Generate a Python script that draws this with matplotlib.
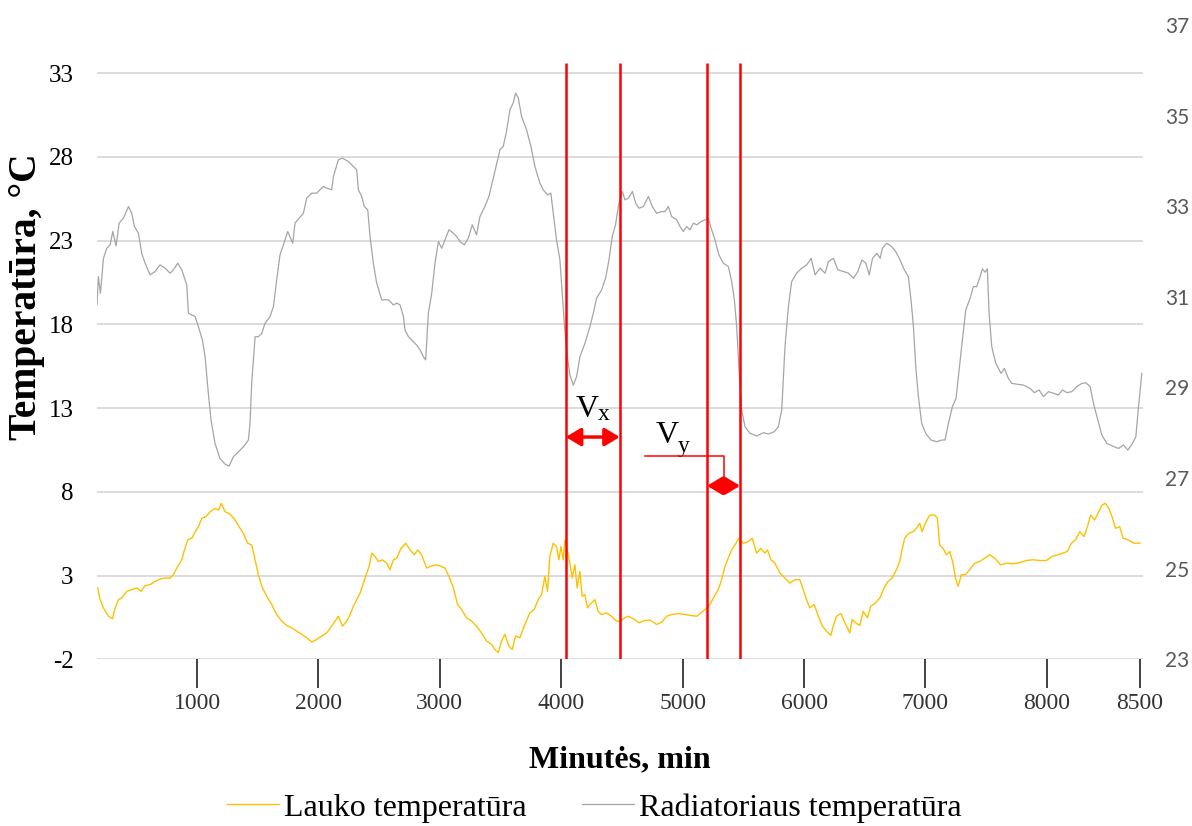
import matplotlib
matplotlib.use("Agg")
import matplotlib.pyplot as plt

# radiator temperature, (minute, degC)
rad_min = [176, 187, 204, 229, 256, 284, 306, 333, 358, 393, 435, 462, 484, 517, 544, 572,
           613, 654, 695, 736, 778, 805, 841, 874, 915, 929, 984, 1011, 1044, 1066, 1093, 1115,
           1148, 1189, 1231, 1264, 1299, 1340, 1382, 1423, 1436, 1450, 1478, 1505, 1533, 1560,
           1601, 1629, 1656, 1683, 1711, 1747, 1788, 1807, 1840, 1876, 1903, 1944, 1985, 2040,
           2068, 2109, 2123, 2164, 2197, 2246, 2274, 2315, 2329, 2356, 2378, 2406, 2425, 2452,
           2480, 2521, 2576, 2617, 2645, 2672, 2700, 2713, 2741, 2768, 2809, 2837, 2864, 2883,
           2905, 2933, 2960, 2988, 3015, 3042, 3075, 3111, 3138, 3166, 3201, 3234, 3267, 3302,
           3330, 3371, 3404, 3440, 3476, 3495, 3522, 3549, 3577, 3604, 3624, 3646, 3673, 3714,
           3750, 3783, 3824, 3851, 3887, 3914, 3934, 3961, 3989, 4008, 4025, 4047, 4071, 4099,
           4126, 4154, 4195, 4236, 4264, 4291, 4332, 4365, 4393, 4420, 4447, 4470, 4503, 4525,
           4553, 4586, 4613, 4641, 4676, 4718, 4750, 4786, 4827, 4855, 4882, 4910, 4951, 4978,
           5005, 5033, 5061, 5088, 5116, 5151, 5184, 5211, 5239, 5266, 5299, 5335, 5376, 5404,
           5426, 5445, 5464, 5486, 5514, 5555, 5610, 5665, 5706, 5755, 5788, 5816, 5843, 5871,
           5898, 5939, 5981, 6022, 6058, 6091, 6132, 6173, 6201, 6242, 6278, 6325, 6366, 6407,
           6443, 6476, 6509, 6537, 6564, 6600, 6627, 6645, 6681, 6722, 6755, 6791, 6826, 6859,
           6881, 6901, 6920, 6942, 6969, 7002, 7046, 7093, 7134, 7161, 7189, 7222, 7252, 7277,
           7304, 7332, 7368, 7395, 7422, 7450, 7469, 7491, 7510, 7524, 7546, 7579, 7623, 7650,
           7683, 7711, 7752, 7807, 7862, 7897, 7936, 7972, 8013, 8054, 8095, 8128, 8166, 8205,
           8247, 8288, 8321, 8357, 8384, 8420, 8453, 8494, 8540, 8590, 8631, 8667, 8705, 8733,
           8755, 8782]
rad_temp = [19.16, 20.85, 19.85, 21.94, 22.54, 22.74, 23.54, 22.68, 24.04, 24.33, 25.03, 24.63,
            23.84, 23.44, 22.24, 21.65, 20.95, 21.15, 21.55, 21.35, 21.05, 21.25, 21.65, 21.25,
            20.35, 18.66, 18.46, 17.86, 17.06, 16.07, 13.88, 12.28, 10.89, 9.99, 9.65, 9.53,
            10.09, 10.39, 10.69, 11.09, 12.08, 14.47, 17.26, 17.26, 17.46, 18.06, 18.46, 19.06,
            20.65, 22.14, 22.74, 23.54, 22.84, 24.04, 24.33, 24.63, 25.53, 25.83, 25.83, 26.23,
            26.13, 26.03, 26.82, 27.82, 27.92, 27.72, 27.52, 27.22, 26.03, 25.63, 25.03, 24.83,
            23.24, 21.65, 20.45, 19.46, 19.46, 19.16, 19.26, 19.16, 18.46, 17.66, 17.26, 17.06,
            16.76, 16.47, 16.07, 15.87, 18.66, 19.85, 21.65, 22.94, 22.54, 23.04, 23.64, 23.44,
            23.24, 22.94, 22.74, 23.14, 23.94, 23.34, 24.43, 25.03, 25.63, 26.72, 27.82, 28.42,
            28.62, 29.51, 30.81, 31.21, 31.80, 31.51, 30.41, 29.61, 28.62, 27.42, 26.43, 26.03,
            25.73, 25.83, 24.63, 23.04, 21.84, 19.85, 18.06, 16.27, 14.97, 14.37, 14.87, 16.07,
            16.86, 17.86, 18.66, 19.56, 20.05, 20.75, 21.84, 23.24, 23.94, 25.03, 25.93, 25.43,
            25.53, 25.93, 25.23, 24.93, 25.03, 25.63, 25.03, 24.63, 24.73, 24.73, 25.03, 24.43,
            24.24, 23.84, 23.54, 23.84, 23.64, 24.04, 23.94, 24.13, 24.24, 24.33, 23.64, 23.04,
            22.14, 21.65, 21.45, 20.55, 19.46, 17.86, 15.27, 12.88, 11.88, 11.49, 11.33, 11.53,
            11.45, 11.59, 11.88, 12.88, 16.67, 19.06, 20.55, 21.05, 21.35, 21.55, 21.94, 20.95,
            21.35, 21.05, 21.75, 21.94, 21.25, 21.15, 21.05, 20.75, 21.15, 21.84, 21.65, 20.95,
            21.94, 22.24, 21.94, 22.54, 22.84, 22.64, 22.34, 21.84, 21.25, 20.85, 19.46, 17.86,
            15.47, 13.68, 12.08, 11.49, 11.09, 10.99, 11.09, 11.09, 12.08, 13.08, 13.58, 15.27,
            17.06, 18.86, 19.56, 20.25, 20.25, 20.85, 21.31, 21.11, 21.31, 18.66, 16.67, 15.67,
            15.07, 15.37, 14.77, 14.47, 14.43, 14.37, 14.17, 13.92, 14.08, 13.68, 13.98, 13.88,
            13.78, 14.08, 13.92, 13.98, 14.28, 14.47, 14.51, 14.28, 13.28, 12.28, 11.39, 10.89,
            10.73, 10.59, 10.79, 10.49, 10.89, 11.29, 13.08, 15.07]

# outdoor temperature, (minute, degC)
lauko_min = [182, 201, 229, 270, 303, 325, 352, 380, 421, 462, 503, 539, 572, 613, 654, 695,
             736, 778, 805, 833, 874, 896, 924, 957, 984, 1011, 1039, 1072, 1108, 1149, 1177,
             1199, 1231, 1272, 1313, 1346, 1382, 1417, 1450, 1478, 1505, 1533, 1574, 1615, 1656,
             1697, 1739, 1780, 1821, 1862, 1903, 1945, 1986, 2027, 2068, 2109, 2137, 2164, 2197,
             2233, 2260, 2288, 2315, 2343, 2370, 2398, 2417, 2439, 2466, 2494, 2527, 2562, 2590,
             2617, 2645, 2680, 2719, 2755, 2790, 2817, 2850, 2891, 2933, 2974, 3015, 3042, 3075,
             3111, 3146, 3179, 3220, 3261, 3302, 3343, 3384, 3426, 3453, 3481, 3508, 3536, 3569,
             3596, 3624, 3659, 3700, 3741, 3777, 3810, 3838, 3865, 3887, 3906, 3934, 3961, 3980,
             3997, 4016, 4030, 4052, 4071, 4090, 4112, 4131, 4153, 4172, 4194, 4216, 4249, 4277,
             4304, 4331, 4373, 4414, 4455, 4484, 4525, 4553, 4594, 4641, 4690, 4731, 4786, 4827,
             4868, 4910, 4965, 5019, 5074, 5116, 5151, 5189, 5225, 5260, 5293, 5321, 5348, 5376,
             5403, 5431, 5464, 5499, 5540, 5573, 5609, 5644, 5677, 5699, 5727, 5760, 5801, 5842,
             5883, 5924, 5965, 5993, 6020, 6048, 6083, 6118, 6151, 6185, 6221, 6240, 6267, 6303,
             6336, 6377, 6397, 6424, 6459, 6487, 6522, 6550, 6588, 6624, 6659, 6692, 6725, 6761,
             6788, 6807, 6829, 6862, 6898, 6925, 6953, 6972, 6999, 7035, 7076, 7098, 7117, 7145,
             7172, 7200, 7227, 7247, 7269, 7296, 7329, 7364, 7406, 7447, 7488, 7529, 7570, 7620,
             7667, 7722, 7777, 7832, 7887, 7941, 7996, 8043, 8092, 8133, 8169, 8202, 8235, 8271,
             8306, 8334, 8361, 8394, 8427, 8455, 8482, 8510, 8537, 8565, 8600, 8628, 8669, 8719,
             8768]
lauko_temp = [2.26, 1.56, 1.07, 0.57, 0.42, 1.07, 1.56, 1.66, 2.06, 2.16, 2.26, 2.06, 2.40, 2.46,
              2.65, 2.79, 2.85, 2.85, 3.05, 3.45, 3.94, 4.53, 5.13, 5.23, 5.62, 5.92, 6.42, 6.51,
              6.81, 7.01, 6.91, 7.31, 6.81, 6.67, 6.32, 5.92, 5.52, 4.93, 4.83, 3.94, 3.05, 2.36,
              1.76, 1.27, 0.67, 0.28, 0.02, -0.12, -0.32, -0.51, -0.71, -0.97, -0.81, -0.61,
              -0.42, -0.02, 0.28, 0.57, -0.02, 0.28, 0.67, 1.17, 1.56, 1.96, 2.55, 3.15, 3.54,
              4.34, 4.14, 3.84, 3.94, 3.74, 3.35, 3.94, 4.04, 4.63, 4.93, 4.53, 4.24, 4.53, 4.24,
              3.45, 3.58, 3.64, 3.54, 3.45, 2.95, 2.26, 1.27, 0.97, 0.48, 0.28, -0.02, -0.42,
              -0.91, -1.11, -1.41, -1.60, -0.91, -0.51, -1.21, -1.41, -0.61, -0.71, 0.08, 0.77,
              0.97, 1.56, 1.86, 2.95, 2.06, 4.14, 4.93, 4.73, 3.94, 4.73, 3.94, 5.13, 4.44, 3.74,
              2.85, 3.64, 2.26, 3.25, 1.76, 1.86, 1.07, 1.37, 1.56, 0.87, 0.67, 0.77, 0.57, 0.28,
              0.28, 0.48, 0.57, 0.42, 0.18, 0.32, 0.34, 0.08, 0.22, 0.57, 0.67, 0.73, 0.67, 0.61,
              0.57, 0.77, 1.01, 1.27, 1.76, 2.16, 2.75, 3.54, 4.04, 4.53, 4.83, 5.23, 4.93, 5.03,
              5.23, 4.34, 4.63, 4.34, 4.53, 3.94, 3.74, 3.15, 2.85, 2.55, 2.75, 2.75, 2.16, 1.56,
              1.07, 1.27, 0.57, -0.02, -0.32, -0.57, -0.02, 0.57, 0.73, 0.18, -0.42, 0.38, 0.18,
              0.02, 0.87, 0.48, 1.17, 1.37, 1.66, 2.26, 2.65, 2.85, 3.35, 3.84, 4.53, 5.23, 5.52,
              5.62, 5.82, 6.12, 5.62, 6.12, 6.61, 6.61, 6.42, 4.83, 4.63, 4.24, 4.44, 3.74, 2.85,
              2.36, 3.05, 3.05, 3.35, 3.74, 3.84, 4.04, 4.24, 4.04, 3.64, 3.74, 3.70, 3.78, 3.90,
              3.94, 3.90, 3.90, 4.14, 4.24, 4.34, 4.44, 4.93, 5.13, 5.62, 5.33, 5.92, 6.61, 6.32,
              6.81, 7.21, 7.31, 7.01, 6.51, 5.82, 5.92, 5.23, 5.13, 4.93, 4.94]

# interval markers (minutes)
v_lines = [4037, 4482, 5201, 5473]
left_ticks = [-2, 3, 8, 13, 18, 23, 28, 33]
right_ticks = [23, 25, 27, 29, 31, 33, 35, 37]
x_ticks = [1000, 2000, 3000, 4000, 5000, 6000, 7000, 8000, 8766]
x_labels = ["1000", "2000", "3000", "4000", "5000", "6000", "7000", "8000", "8500"]

YELLOW = "#FFC000"
GREY = "#A5A5A5"
RED = "#FF0000"
SERIF = "Liberation Serif"

fig = plt.figure(figsize=(11.92, 8.26), dpi=100)
ax = fig.add_axes([0.0814, 0.2018, 0.8775, 0.7679])
ax.set_xlim(176, 8792)
ax.set_ylim(-2, 35.866)

ax.plot(lauko_min, lauko_temp, color=YELLOW, lw=1.0, label="Lauko temperatūra", zorder=3)
ax.plot(rad_min, rad_temp, color=GREY, lw=0.9, label="Radiatoriaus temperatūra", zorder=3)

for y in left_ticks:
    ax.axhline(y, color="#D9D9D9", lw=1.3, zorder=1)
ax.vlines(v_lines, -2, 33.61, color=RED, lw=1.8, zorder=4)

arrow = dict(arrowstyle="<|-|>,head_length=0.5,head_width=0.3", color=RED, lw=2.5,
             mutation_scale=18, shrinkA=0, shrinkB=0)
ax.annotate("", xy=(v_lines[1], 11.27), xytext=(v_lines[0], 11.27), arrowprops=arrow, zorder=5)
ax.annotate("", xy=(v_lines[3], 8.36), xytext=(v_lines[2], 8.36), arrowprops=arrow, zorder=5)
# leader from the Vy label down to its arrow
ax.plot([4690, 5341, 5341], [10.15, 10.15, 8.6], color=RED, lw=1.1, zorder=4)

ax.text(4212, 12.46, "V", fontsize=23, family=SERIF, ha="center", va="baseline")
ax.text(4350, 12.28, "x", fontsize=17, family=SERIF, ha="center", va="baseline")
ax.text(4871, 10.91, "V", fontsize=23, family=SERIF, ha="center", va="baseline")
ax.text(5008, 10.37, "y", fontsize=17, family=SERIF, ha="center", va="baseline")

for s in ax.spines.values():
    s.set_visible(False)
ax.set_yticks(left_ticks)
ax.set_yticklabels([str(t) for t in left_ticks], family=SERIF, fontsize=18)
ax.tick_params(axis="y", length=0, pad=17)
ax.set_xticks(x_ticks)
ax.set_xticklabels(x_labels, family=SERIF, fontsize=17, color="#333333")
ax.tick_params(axis="x", direction="out", length=21, width=1.3, color="#333333", pad=3)

ax2 = ax.twinx()
ax2.set_ylim(23, 37)
ax2.set_yticks(right_ticks)
ax2.set_yticklabels([str(t) for t in right_ticks], family="Lato", fontsize=15, color="#595959")
ax2.tick_params(axis="y", length=0, pad=16)
for s in ax2.spines.values():
    s.set_visible(False)

fig.text(27 / 1192, 1 - 297 / 826, "Temperatūra, °C", rotation=90, ha="center", va="center",
         family=SERIF, fontsize=28.5, weight="bold")
fig.text(620 / 1192, 1 - 760 / 826, "Minutės, min", ha="center", va="center",
         family=SERIF, fontsize=23, weight="bold")

leg = fig.legend(loc="center", bbox_to_anchor=(0.4987, 0.022), ncol=2, frameon=False,
                 prop={"family": SERIF, "size": 23}, handlelength=1.63, handletextpad=0.16,
                 columnspacing=1.72, borderaxespad=0, borderpad=0)

fig.savefig("out.png", dpi=100)
